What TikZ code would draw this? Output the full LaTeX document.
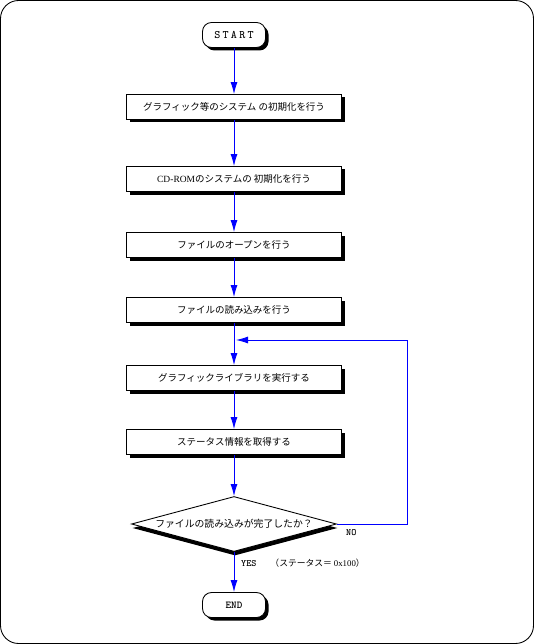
\documentclass[tikz,border=0pt]{standalone}
\usepackage{fontspec}
\setmainfont{Noto Sans CJK JP}
\newfontfamily\termfont[LetterSpace=20]{Latin Modern Mono}
\newfontfamily\romfont{Liberation Serif}
\usetikzlibrary{arrows.meta, shapes.geometric, shadows}

\begin{document}
\begin{tikzpicture}[
    line width=0.5pt,
    boxshadow/.style={drop shadow={shadow xshift=0.06cm, shadow yshift=-0.06cm, fill=black, opacity=1}},
    proc/.style={draw, fill=white, boxshadow, minimum width=4.3cm, minimum height=0.5cm, inner sep=0pt, font=\fontsize{5.4}{6.5}\selectfont},
    term/.style={draw, fill=white, boxshadow, rounded corners=0.18cm, minimum width=1.26cm, minimum height=0.5cm, inner sep=0pt},
    test/.style={draw, diamond, fill=white, aspect=4, inner sep=0pt, minimum width=4.1cm, minimum height=1.1cm, font=\fontsize{5.6}{6.5}\selectfont,
        drop shadow={shadow xshift=0.02cm, shadow yshift=-0.08cm, fill=black, opacity=1}},
    flow/.style={draw=blue, -{Latex[length=2.4mm, width=1.4mm]}},
    tag/.style={font=\ttfamily\bfseries\fontsize{5.5}{6.5}\selectfont, inner sep=1pt}
]
    \useasboundingbox (0,0) rectangle (10.68,-12.88);

    % Frame
    \draw[rounded corners=0.36cm] (0.01,-0.01) rectangle (10.67,-12.87);

    % Steps
    \node[term] (start) at (4.68,-0.70) {\termfont\fontsize{6.5}{7.5}\selectfont START};
    \node[proc] (init) at (4.68,-2.14) {グラフィック等のシステム の初期化を行う};
    \node[proc] (cdrom) at (4.68,-3.58) {{\romfont CD-ROM}のシステムの 初期化を行う};
    \node[proc] (open) at (4.68,-4.90) {ファイルのオープンを行う};
    \node[proc] (read) at (4.68,-6.20) {ファイルの読み込みを行う};
    \node[proc] (lib) at (4.68,-7.56) {グラフィックライブラリを実行する};
    \node[proc] (stat) at (4.68,-8.84) {ステータス情報を取得する};
    \node[test] (done) at (4.68,-10.48) {ファイルの読み込みが完了したか？};
    \node[term] (end) at (4.68,-12.10) {\ttfamily\bfseries\fontsize{6}{7}\selectfont END};

    \coordinate (join) at (4.72,-6.80);

    % Connectors
    \draw[flow] (start) -- (init);
    \draw[flow] (init) -- (cdrom);
    \draw[flow] (cdrom) -- (open);
    \draw[flow] (open) -- (read);
    \draw[flow] (read) -- (lib);
    \draw[flow] (lib) -- (stat);
    \draw[flow] (stat) -- (done);
    \draw[flow] (done) -- (end);
    \draw[flow] (done.east) -| (8.14,-6.80) -- (join);

    % Labels
    \node[tag, anchor=west] at (6.88,-10.66) {NO};
    \node[anchor=west, inner sep=1pt, font=\fontsize{5}{6}\selectfont] at (4.78,-11.26) {{\ttfamily\bfseries\fontsize{5.5}{6.5}\selectfont YES}\hspace{1.6em}（ステータス＝ {\romfont 0x100}）};
\end{tikzpicture}
\end{document}
